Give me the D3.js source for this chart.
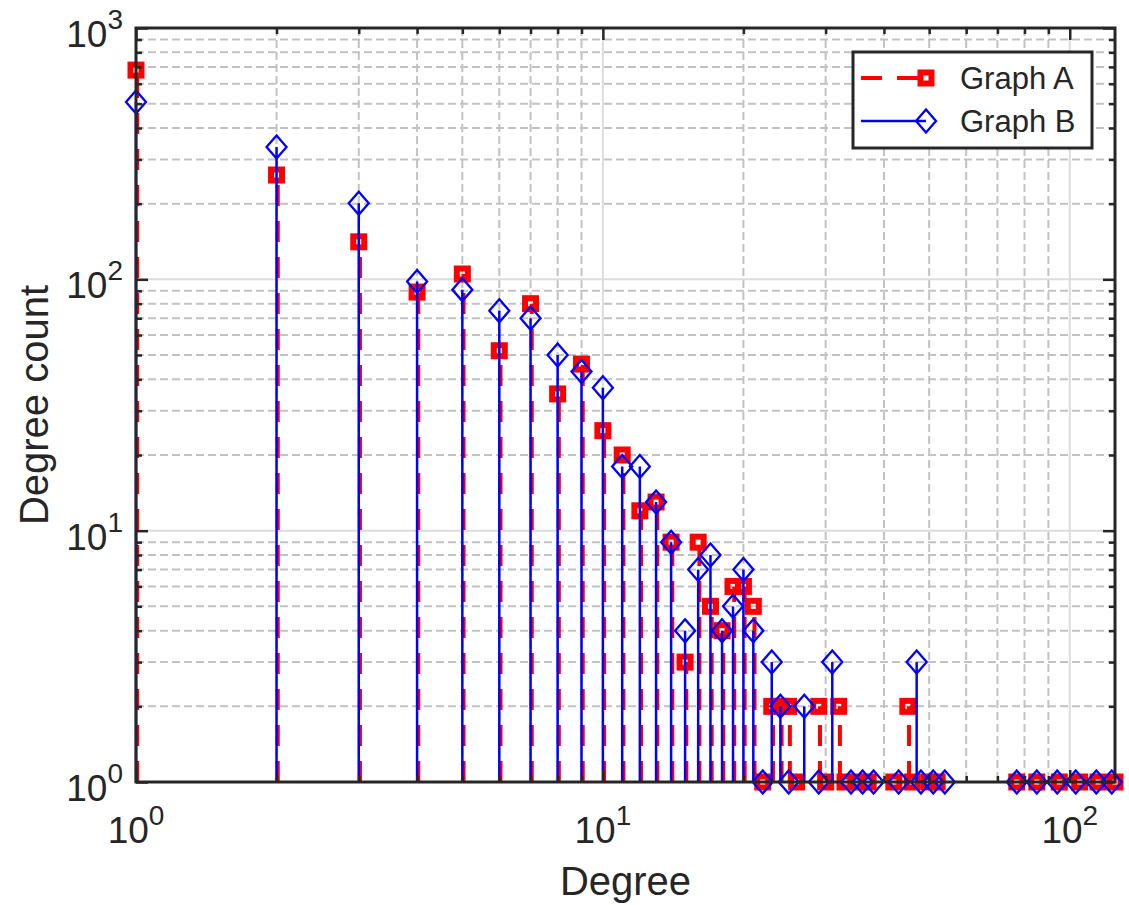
<!DOCTYPE html>
<html>
<head>
<meta charset="utf-8">
<script src="https://cdn.jsdelivr.net/npm/d3@7"></script>
<style>
  html, body { margin: 0; padding: 0; background: #fff; }
  svg { display: block; }
  text { font-family: "Liberation Sans", Arial, Helvetica, sans-serif; fill: #262626; }
</style>
</head>
<body>
<svg id="chart" width="1129" height="905"></svg>
<script>
// ---- data ----
const seriesNames = ["Graph A", "Graph B"];
const degreesA = [1,2,3,4,5,6,7,8,9,10,11,12,13,14,15,16,17,18,19,20,21,22,23,24,25,26,29,30,32,33,35,37,42,45,46,50,52,77,85,95,105,115,125];
const countsA  = [680,260,141,89,105,52,80,35,46,25,20,12,13,9,3,9,5,4,6,6,5,1,2,2,2,1,2,1,2,1,1,1,1,2,1,1,1,1,1,1,1,1,1];
const degreesB = [1,2,3,4,5,6,7,8,9,10,11,12,13,14,15,16,17,18,19,20,21,22,23,24,25,27,29,31,34,36,38,43,47,48,51,54,77,85,94,103,114,123];
const countsB  = [508,336,201,98,91,75,70,50,43,37,18,18,13,9,4,7,8,4,5,7,4,1,3,2,1,2,1,3,1,1,1,1,3,1,1,1,1,1,1,1,1,1];
const xMajorTicks = [1, 10, 100];
const xMinorTicks = [2,3,4,5,6,7,8,9,20,30,40,50,60,70,80,90];
const yMajorTicks = [1, 10, 100, 1000];
const yMinorTicks = [2,3,4,5,6,7,8,9,20,30,40,50,60,70,80,90,200,300,400,500,600,700,800,900];
const tickExponents = {1: "0", 10: "1", 100: "2", 1000: "3"};
const xLabel = "Degree";
const yLabel = "Degree count";

// ---- layout ----
const L = 136, R = 1115, T = 28, B = 782;
const RED = "#ff0000", BLUE = "#0000ff", AX = "#262626";

const svg = d3.select("#chart");
const x = d3.scaleLog().domain([1, 125]).range([L, R]);
const y = d3.scaleLog().domain([1, 1000]).range([B, T]);

// ---- grid ----
const grid = svg.append("g");
grid.selectAll(".gxm").data(xMinorTicks).join("line")
  .attr("x1", d => x(d)).attr("x2", d => x(d)).attr("y1", T).attr("y2", B)
  .attr("stroke", "#c2c2c2").attr("stroke-width", 2).attr("stroke-dasharray", "8,4");
grid.selectAll(".gym").data(yMinorTicks).join("line")
  .attr("y1", d => y(d)).attr("y2", d => y(d)).attr("x1", L).attr("x2", R)
  .attr("stroke", "#c2c2c2").attr("stroke-width", 2).attr("stroke-dasharray", "8,4");
grid.selectAll(".gxM").data([10, 100]).join("line")
  .attr("x1", d => x(d)).attr("x2", d => x(d)).attr("y1", T).attr("y2", B)
  .attr("stroke", "#dcdcdc").attr("stroke-width", 2);
grid.selectAll(".gyM").data([10, 100]).join("line")
  .attr("y1", d => y(d)).attr("y2", d => y(d)).attr("x1", L).attr("x2", R)
  .attr("stroke", "#dcdcdc").attr("stroke-width", 2);

// ---- series ----
const dataA = degreesA.map((d, i) => ({x: d, y: countsA[i]}));
const dataB = degreesB.map((d, i) => ({x: d, y: countsB[i]}));
const diamond = "M0,-11.5L10,0L0,11.5L-10,0Z";

const gA = svg.append("g");
gA.append("g").attr("transform", "translate(1.2,0)")
  .selectAll("line").data(dataA).join("line")
  .attr("x1", d => x(d.x)).attr("x2", d => x(d.x))
  .attr("y1", y(1)).attr("y2", d => y(d.y))
  .attr("stroke", RED).attr("stroke-width", 4).attr("stroke-dasharray", "21,15");
gA.selectAll("rect").data(dataA).join("rect")
  .attr("x", d => x(d.x) - 5.5).attr("y", d => y(d.y) - 5.5)
  .attr("width", 11).attr("height", 11)
  .attr("fill", "none").attr("stroke", RED).attr("stroke-width", 6);

const gB = svg.append("g");
gB.selectAll("line").data(dataB).join("line")
  .attr("x1", d => x(d.x)).attr("x2", d => x(d.x))
  .attr("y1", y(1)).attr("y2", d => y(d.y))
  .attr("stroke", BLUE).attr("stroke-width", 2.5);
gB.selectAll("path").data(dataB).join("path")
  .attr("d", diamond)
  .attr("transform", d => `translate(${x(d.x)},${y(d.y)})`)
  .attr("fill", "none").attr("stroke", BLUE).attr("stroke-width", 2.3);

// ---- axes (ticks inward on all sides) ----
function styleAxis(g) {
  g.select(".domain").remove();
  g.selectAll(".tick line").attr("stroke", AX).attr("stroke-width", 2.5);
}
svg.append("g").attr("transform", `translate(0,${B})`)
  .call(d3.axisBottom(x).tickValues(xMajorTicks).tickSize(-12).tickFormat(""))
  .call(styleAxis);
svg.append("g").attr("transform", `translate(0,${B})`)
  .call(d3.axisBottom(x).tickValues(xMinorTicks).tickSize(-6).tickFormat(""))
  .call(styleAxis);
svg.append("g").attr("transform", `translate(0,${T})`)
  .call(d3.axisTop(x).tickValues(xMajorTicks).tickSize(-12).tickFormat(""))
  .call(styleAxis);
svg.append("g").attr("transform", `translate(0,${T})`)
  .call(d3.axisTop(x).tickValues(xMinorTicks).tickSize(-6).tickFormat(""))
  .call(styleAxis);
svg.append("g").attr("transform", `translate(${L},0)`)
  .call(d3.axisLeft(y).tickValues(yMajorTicks).tickSize(-12).tickFormat(""))
  .call(styleAxis);
svg.append("g").attr("transform", `translate(${L},0)`)
  .call(d3.axisLeft(y).tickValues(yMinorTicks).tickSize(-6).tickFormat(""))
  .call(styleAxis);
svg.append("g").attr("transform", `translate(${R},0)`)
  .call(d3.axisRight(y).tickValues(yMajorTicks).tickSize(-12).tickFormat(""))
  .call(styleAxis);
svg.append("g").attr("transform", `translate(${R},0)`)
  .call(d3.axisRight(y).tickValues(yMinorTicks).tickSize(-6).tickFormat(""))
  .call(styleAxis);

// box
svg.append("rect").attr("x", L).attr("y", T).attr("width", R - L).attr("height", B - T)
  .attr("fill", "none").attr("stroke", AX).attr("stroke-width", 3);

// ---- tick labels ----
const xl = svg.append("g");
xMajorTicks.forEach(v => {
  const t = xl.append("text").attr("x", x(v)).attr("y", B + 61)
    .attr("text-anchor", "middle").attr("font-size", 37);
  t.append("tspan").text("10");
  t.append("tspan").attr("dy", -18).attr("font-size", 28).text(tickExponents[v]);
});
const yl = svg.append("g");
yMajorTicks.forEach(v => {
  const t = yl.append("text").attr("x", 123).attr("y", y(v) + 19)
    .attr("text-anchor", "end").attr("font-size", 37);
  t.append("tspan").text("10");
  t.append("tspan").attr("dy", -18).attr("font-size", 28).text(tickExponents[v]);
});

// ---- axis titles ----
svg.append("text").attr("x", (L + R) / 2).attr("y", 895)
  .attr("text-anchor", "middle").attr("font-size", 40).text(xLabel);
svg.append("text").attr("transform", `translate(48,${(T + B) / 2}) rotate(-90)`)
  .attr("text-anchor", "middle").attr("font-size", 40).text(yLabel);

// ---- legend ----
const lg = svg.append("g");
lg.append("rect").attr("x", 853).attr("y", 52).attr("width", 239).attr("height", 96)
  .attr("fill", "#fff").attr("stroke", AX).attr("stroke-width", 3);
const legendRows = [
  {name: seriesNames[0], yy: 78, color: RED, dash: "21,15", w: 4, marker: "square"},
  {name: seriesNames[1], yy: 121, color: BLUE, dash: null, w: 2.5, marker: "diamond"}
];
legendRows.forEach(r => {
  lg.append("line").attr("x1", 861).attr("x2", 926).attr("y1", r.yy).attr("y2", r.yy)
    .attr("stroke", r.color).attr("stroke-width", r.w).attr("stroke-dasharray", r.dash);
  if (r.marker === "square") {
    lg.append("rect").attr("x", 926 - 5.5).attr("y", r.yy - 5.5).attr("width", 11).attr("height", 11)
      .attr("fill", "none").attr("stroke", r.color).attr("stroke-width", 6);
  } else {
    lg.append("path").attr("d", diamond).attr("transform", `translate(926,${r.yy})`)
      .attr("fill", "none").attr("stroke", r.color).attr("stroke-width", 2.3);
  }
  lg.append("text").attr("x", 960).attr("y", r.yy + 10.5).attr("font-size", 31).text(r.name);
});
</script>
</body>
</html>
